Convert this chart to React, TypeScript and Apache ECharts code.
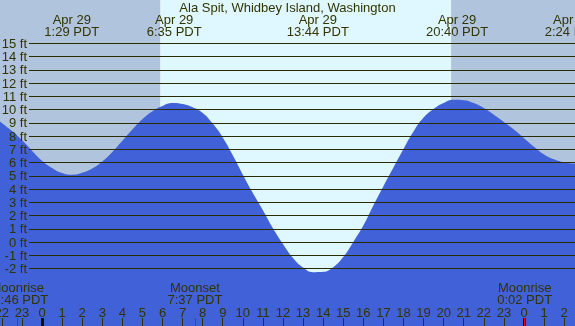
import React, { useEffect, useRef } from "react";
import * as echarts from "echarts";

const titleText = "Ala Spit, Whidbey Island, Washington";

// tide curve, every half hour (hours from midnight Apr 29, feet)
const tideHours = [-2.5, -2, -1.5, -1, -0.5, 0, 0.5, 1, 1.5, 2, 2.5, 3, 3.5, 4, 4.5, 5, 5.5, 6, 6.5, 7, 7.5, 8, 8.5, 9, 9.5, 10, 10.5, 11, 11.5, 12, 12.5, 13, 13.5, 14, 14.5, 15, 15.5, 16, 16.5, 17, 17.5, 18, 18.5, 19, 19.5, 20, 20.5, 21, 21.5, 22, 22.5, 23, 23.5, 24, 24.5, 25, 25.5, 26, 26.5, 27];
const tideFeet = [9.6, 9.0, 8.4, 7.7, 6.9, 6.15, 5.6, 5.22, 5.09, 5.23, 5.55, 6.08, 6.8, 7.65, 8.5, 9.28, 9.88, 10.28, 10.5, 10.42, 10.18, 9.75, 8.95, 7.9, 6.55, 5.09, 3.71, 2.41, 1.05, -0.15, -1.21, -1.93, -2.28, -2.25, -1.9, -1.14, 0.0, 1.24, 2.76, 4.22, 5.63, 7.03, 8.35, 9.4, 10.05, 10.5, 10.75, 10.72, 10.5, 10.12, 9.62, 9.07, 8.5, 7.85, 7.2, 6.62, 6.25, 6.02, 5.93, 5.96];

// high / low tide events
const extremeHours = [1.483, 6.583, 13.733, 20.667, 26.4];
const extremeDates = ["Apr 29", "Apr 29", "Apr 29", "Apr 29", "Apr 30"];
const extremeTimes = ["1:29 PDT", "6:35 PDT", "13:44 PDT", "20:40 PDT", "2:24 PDT"];

// moon events
const moonHours = [-1.233, 7.617, 24.033];
const moonNames = ["Moonrise", "Moonset", "Moonrise"];
const moonTimes = ["22:46 PDT", "7:37 PDT", "0:02 PDT"];

// sunrise / sunset
const sunrise = 5.9;
const sunset = 20.37;

const midnights = [0, 24];
const hourMin = -3;
const hourMax = 27;
const feetMin = -2;
const feetMax = 15;

const TXT = "#333300";
const GRIDLINE = "#2b2b00";
const FONT = "'Liberation Sans', Arial, sans-serif";
const NIGHT = "#b0c4de";
const DAY = "#dff8ff";
const WATER = "#4161d8";

export default function App() {
  const ref = useRef<HTMLDivElement>(null);
  useEffect(() => {
    if (!ref.current) return;
    const chart = echarts.init(ref.current, null, { renderer: "svg" });
    const W = 575, H = 326;
    const x0 = 42; // pixel of hour 0
    const pxH = 20.083;
    const gl = x0 + hourMin * pxH;
    const gr = W - (x0 + hourMax * pxH);
    const yTop = 43.5, yBot = 268.5;
    const pxF = (yBot - yTop) / (feetMax - feetMin);
    const yAxMax = feetMax + yTop / pxF;
    const yAxMin = feetMin - (H - yBot) / pxF;

    const baseX = {
      type: "value", gridIndex: 0, min: hourMin, max: hourMax,
      axisLine: { show: false, onZero: false }, splitLine: { show: false },
    };
    const option: any = {
      animation: false,
      textStyle: { fontFamily: FONT },
      title: {
        text: titleText, left: "center", top: 1, padding: 0,
        textStyle: { fontSize: 13, fontWeight: "normal", color: TXT, fontFamily: FONT, lineHeight: 13 },
      },
      grid: [
        { left: gl, right: gr, top: 0, bottom: 0, outerBoundsMode: "none", containLabel: false },
        { left: 29, right: 0, top: yTop, bottom: H - yBot, outerBoundsMode: "none", containLabel: false },
      ],
      xAxis: [
        {
          ...baseX, interval: 1, position: "bottom",
          axisTick: { show: true, inside: true, length: 8, lineStyle: { color: TXT, width: 1 } },
          axisLabel: {
            inside: true, margin: 7, fontSize: 13, color: TXT, fontFamily: FONT,
            formatter: (v: number) => String(((Math.round(v) % 24) + 24) % 24),
          },
          z: 6,
        },
        {
          ...baseX, position: "top",
          axisTick: { show: false },
          axisLabel: {
            inside: true, margin: 13.5, fontSize: 13, lineHeight: 12, color: TXT, fontFamily: FONT,
            customValues: extremeHours,
            formatter: (v: number) => {
              const i = extremeHours.findIndex((t) => Math.abs(t - v) < 0.01);
              return i < 0 ? "" : extremeDates[i] + "\n" + extremeTimes[i];
            },
          },
          z: 6,
        },
        {
          ...baseX, position: "bottom",
          axisTick: { show: true, inside: true, length: 8, customValues: midnights, lineStyle: { color: "#111100", width: 3 } },
          axisLabel: { show: false },
          z: 7,
        },
        {
          ...baseX, position: "bottom",
          axisTick: { show: true, inside: true, length: 8, customValues: moonHours, lineStyle: { color: "#ff0000", width: 1 } },
          axisLabel: {
            inside: true, margin: 20.25, fontSize: 13, lineHeight: 12, color: TXT, fontFamily: FONT,
            customValues: moonHours,
            formatter: (v: number) => {
              const i = moonHours.findIndex((t) => Math.abs(t - v) < 0.01);
              return i < 0 ? "" : moonNames[i] + "\n" + moonTimes[i];
            },
          },
          z: 8,
        },
        { type: "value", gridIndex: 1, min: 0, max: 1, show: false },
      ],
      yAxis: [
        { type: "value", gridIndex: 0, min: yAxMin, max: yAxMax, show: false },
        {
          type: "value", gridIndex: 1, min: feetMin, max: feetMax, interval: 1,
          axisLine: { show: false }, axisTick: { show: false },
          axisLabel: { margin: 2, fontSize: 13, color: TXT, fontFamily: FONT, formatter: "{value} ft" },
          splitLine: { show: true, lineStyle: { color: GRIDLINE, width: 1 } },
          z: 5,
        },
      ],
      series: [
        {
          type: "line", xAxisIndex: 0, yAxisIndex: 0, data: [], z: 1, silent: true,
          markArea: {
            silent: true,
            data: [
              [{ xAxis: hourMin, itemStyle: { color: NIGHT } }, { xAxis: sunrise }],
              [{ xAxis: sunrise, itemStyle: { color: DAY } }, { xAxis: sunset }],
              [{ xAxis: sunset, itemStyle: { color: NIGHT } }, { xAxis: hourMax }],
            ],
          },
        },
        {
          type: "line", xAxisIndex: 0, yAxisIndex: 0, z: 3, silent: true,
          data: tideHours.map((h, i) => [h, tideFeet[i]]),
          smooth: true, symbol: "none",
          lineStyle: { width: 0 },
          areaStyle: { color: WATER, opacity: 1, origin: "start" },
        },
      ],
    };
    chart.setOption(option);
    return () => chart.dispose();
  }, []);
  return <div ref={ref} style={{ position: "fixed", left: 0, top: 0, width: 575, height: 326 }} />;
}
